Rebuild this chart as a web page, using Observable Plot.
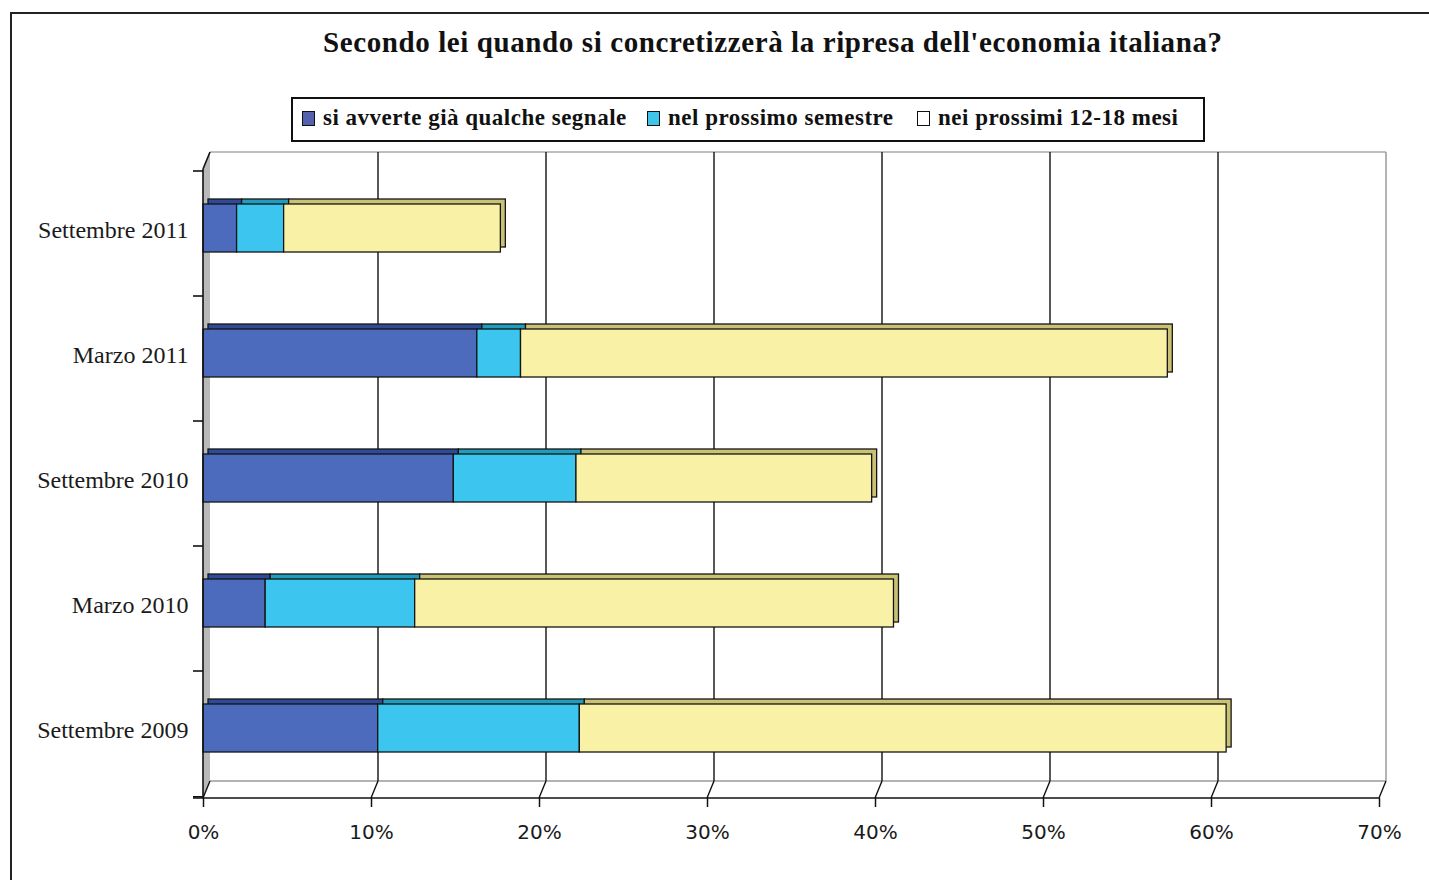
<!DOCTYPE html>
<html>
<head>
<meta charset="utf-8">
<script src="https://cdn.jsdelivr.net/npm/d3@7"></script>
<script src="https://cdn.jsdelivr.net/npm/@observablehq/plot@0.6"></script>
<style>
  html, body { margin: 0; padding: 0; background: #fff; }
  #wrap { position: relative; width: 1429px; height: 880px; overflow: hidden; background: #fff; }
  #frame { position: absolute; left: 10px; top: 12px; width: 1440px; height: 900px; border-top: 2px solid #222; border-left: 2px solid #222; pointer-events: none; z-index: 5; }
  #title { position: absolute; left: 323px; top: 23px; white-space: nowrap;
           font-family: "Liberation Serif", "Times New Roman", serif; font-weight: bold; font-size: 29px; letter-spacing: 0.6px; color: #111; line-height: 38px; }
  #legend { position: absolute; left: 291px; top: 97px; width: 910px; height: 41px; border: 2px solid #111; background: #fff; }
  .item { position: absolute; top: 5px; font-family: "Liberation Serif", "Times New Roman", serif; font-weight: bold; font-size: 23px; color: #111; line-height: 28px; white-space: nowrap; letter-spacing: 0.5px; }
  .sw { position: absolute; top: 12px; width: 11px; height: 13px; border: 1.5px solid #111; }
  #chart { position: absolute; left: 0; top: 145px; }
  #chart svg text { fill: #1a1a1a; }
</style>
</head>
<body>
<div id="wrap">
  <div id="title"></div>
  <div id="legend"></div>
  <div id="chart"></div>
  <div id="frame"></div>
</div>
<script>
// ---- data ----
const titleText = "Secondo lei quando si concretizzerà la ripresa dell'economia italiana?";
const periods = ["Settembre 2011", "Marzo 2011", "Settembre 2010", "Marzo 2010", "Settembre 2009"];
const series = ["si avverte già qualche segnale", "nel prossimo semestre", "nei prossimi 12-18 mesi"];
const giaSegnale       = [2.0, 16.3, 14.9, 3.7, 10.4];
const prossimoSemestre = [2.8, 2.6, 7.3, 8.9, 12.0];
const prossimi1218     = [12.9, 38.5, 17.6, 28.5, 38.5];
const xTicks = [0, 10, 20, 30, 40, 50, 60, 70];

// ---- styles ----
const frontColors = ["#4c6bbd", "#3cc6ef", "#f9f2a6"];
const topColors   = ["#2f4a98", "#1f9dbb", "#c9c173"];
const legendColors = ["#5262b0", "#3fc4ea", "#ffffff"];

document.getElementById("title").textContent = titleText;

// legend
const legendLeft = [9, 354, 624]; // swatch offsets inside legend box
const legend = d3.select("#legend");
series.forEach((s, j) => {
  legend.append("div").attr("class", "sw").style("left", legendLeft[j] + "px").style("background", legendColors[j]);
  legend.append("div").attr("class", "item").style("left", (legendLeft[j] + 21) + "px").text(s);
});

const table = [];
const valuesBySeries = [giaSegnale, prossimoSemestre, prossimi1218];
periods.forEach((p, i) => series.forEach((s, j) => table.push({period: p, serie: s, idx: j, value: valuesBySeries[j][i]})));

const DX = 7, DY = -17;

function decorBack(index, scales, values, dim) {
  const {x} = scales;
  const top = dim.marginTop, bottom = dim.height - dim.marginBottom;
  const left = x(0);
  const g = d3.create("svg:g");
  g.append("polygon")
    .attr("points", `${left},${top} ${left + DX},${top + DY} ${left + DX},${bottom + DY} ${left},${bottom}`)
    .attr("fill", "#b9b9b9");
  g.append("line").attr("x1", left + DX).attr("x2", x(70) + DX).attr("y1", top + DY).attr("y2", top + DY)
    .attr("stroke", "#a8a8a8").attr("stroke-width", 1.5);
  g.append("line").attr("x1", left + DX).attr("x2", x(70) + DX).attr("y1", bottom + DY).attr("y2", bottom + DY)
    .attr("stroke", "#9a9a9a").attr("stroke-width", 1.5);
  for (const t of xTicks) {
    if (t === 0) continue;
    g.append("line").attr("x1", x(t) + DX).attr("x2", x(t) + DX).attr("y1", top + DY).attr("y2", bottom + DY)
      .attr("stroke", t === 70 ? "#9a9a9a" : "#111").attr("stroke-width", t === 70 ? 1.5 : 1.4);
  }
  for (const t of xTicks) {
    g.append("line").attr("x1", x(t)).attr("x2", x(t) + DX).attr("y1", bottom).attr("y2", bottom + DY)
      .attr("stroke", "#111").attr("stroke-width", 1.4);
  }
  return g.node();
}

function decorFront(index, scales, values, dim) {
  const {x, y} = scales;
  const top = dim.marginTop, bottom = dim.height - dim.marginBottom;
  const left = x(0);
  const bw = (bottom - top) / periods.length;
  const g = d3.create("svg:g").attr("stroke", "#111").attr("stroke-width", 1.6);
  g.append("line").attr("x1", left).attr("x2", left).attr("y1", top).attr("y2", bottom);
  g.append("line").attr("x1", left).attr("x2", left + DX).attr("y1", top).attr("y2", top + DY);
  g.append("line").attr("x1", left - 10).attr("x2", x(70)).attr("y1", bottom).attr("y2", bottom);
  for (let i = 0; i <= periods.length; i++) {
    const yy = (i < periods.length ? y(periods[i]) : y(periods[periods.length - 1]) + bw);
    g.append("line").attr("x1", left - 10).attr("x2", left).attr("y1", yy).attr("y2", yy);
  }
  return g.node();
}

const barOpts = {x: "value", y: "period", z: "serie", insetTop: 33, insetBottom: 44, stroke: "#151515", strokeWidth: 1.3};

const chart = Plot.plot({
  width: 1429,
  height: 735,
  marginTop: 24,
  marginBottom: 82,
  marginLeft: 203,
  marginRight: 50,
  style: {background: "transparent", overflow: "visible"},
  x: {domain: [0, 70], axis: null, label: null},
  y: {domain: periods, padding: 0, axis: null, label: null},
  color: {type: "identity"},
  marks: [
    decorBack,
    Plot.barX(table, Plot.stackX({...barOpts, fill: d => topColors[d.idx], dx: 5, dy: -5})),
    Plot.barX(table, Plot.stackX({...barOpts, fill: d => frontColors[d.idx]})),
    decorFront,
    Plot.axisX({ticks: xTicks, tickFormat: d => d + "%", tickSize: 9, tickPadding: 17, stroke: "#111", strokeWidth: 1.5,
                fontFamily: "DejaVu Sans", fontSize: 20, label: null}),
    Plot.axisY({tickSize: 0, tickPadding: 15, fontFamily: "Liberation Serif", fontSize: 24, dy: -4, label: null})
  ]
});
document.getElementById("chart").appendChild(chart);
</script>
</body>
</html>
